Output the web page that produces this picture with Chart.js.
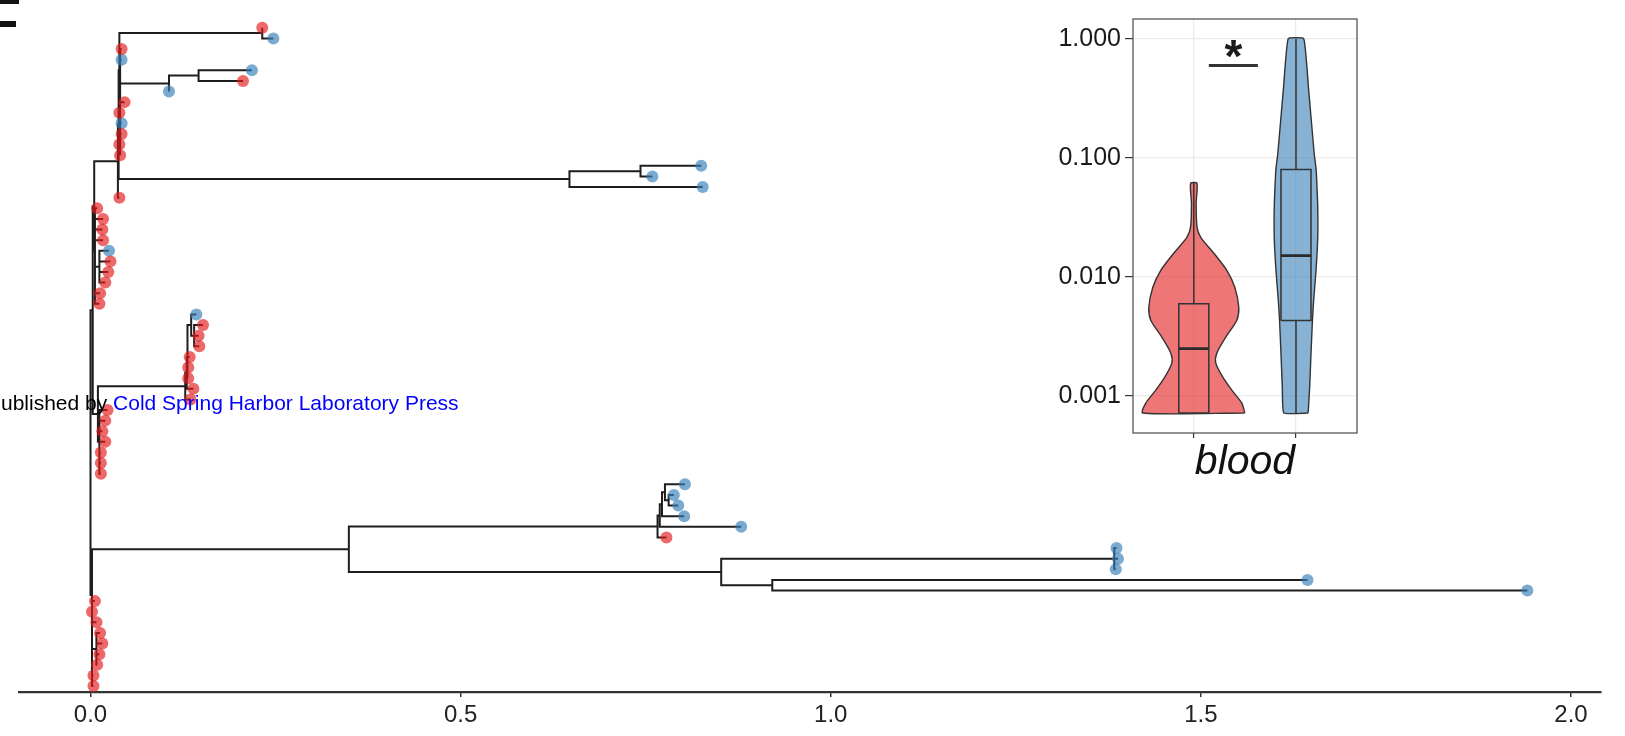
<!DOCTYPE html>
<html>
<head>
<meta charset="utf-8">
<script src="https://cdn.jsdelivr.net/npm/chart.js@4.4.1/dist/chart.umd.min.js"></script>
<style>
  html, body { margin: 0; padding: 0; background: #fff; overflow: hidden; }
  #wrap { position: relative; width: 1625px; height: 736px; }
  #tree { position: absolute; left: 0; top: 0; }
  #inset { position: absolute; left: 1000px; top: 0; }
  .credit { position: absolute; left: 1px; top: 392px; font: 21px/1 'Liberation Sans', Arial, sans-serif; color: #000; white-space: nowrap; }
  .credit span { color: #0000ff; }
  .mark { position: absolute; background: #141414; }
</style>
</head>
<body>
<div id="wrap">
  <canvas id="tree" width="1625" height="736"></canvas>
  <canvas id="inset" width="400" height="500"></canvas>
  <div class="mark" style="left:0;top:0;width:19px;height:4px"></div>
  <div class="mark" style="left:0;top:21px;width:16px;height:6px"></div>
  <div class="credit">ublished by <span>Cold Spring Harbor Laboratory Press</span></div>
</div>
<script>
// ---- tree data (tips listed top to bottom) ----
const tipDist = [
  0.232, 0.247, 0.042, 0.042, 0.218, 0.206, 0.106, 0.046, 0.039, 0.042,
  0.042, 0.039, 0.040, 0.825, 0.759, 0.827, 0.039, 0.009, 0.017, 0.016,
  0.017, 0.025, 0.027, 0.024, 0.020, 0.013, 0.012, 0.143, 0.152, 0.146,
  0.147, 0.134, 0.132, 0.132, 0.139, 0.135, 0.023, 0.020, 0.016, 0.020,
  0.014, 0.014, 0.014, 0.803, 0.788, 0.794, 0.802, 0.879, 0.778, 1.386,
  1.388, 1.385, 1.644, 1.941, 0.006, 0.002, 0.008, 0.013, 0.016, 0.012,
  0.009, 0.004, 0.004
];
// 0 = red group, 1 = blue group
const tipGroup = [
  0, 1, 0, 1, 1, 0, 1, 0, 0, 1,
  0, 0, 0, 1, 1, 1, 0, 0, 0, 0,
  0, 1, 0, 0, 0, 0, 0, 1, 0, 0,
  0, 0, 0, 0, 0, 0, 0, 0, 0, 0,
  0, 0, 0, 1, 1, 1, 1, 1, 0, 1,
  1, 1, 1, 1, 0, 0, 0, 0, 0, 0,
  0, 0, 0
];
const tipParent = [
  'cl12', 'cl12', 'N2c', 'N2c', 'cl56', 'cl56', 'cl567', 'N2c', 'N2c', 'N2c',
  'N2c', 'N2c', 'N2c', 'cl1415', 'cl1415', 'cl1416', 'N2', 'N3', 'N3', 'N3',
  'N3', 'N3a', 'N3a', 'N3a', 'N3a', 'N3', 'N3', 'CQc', 'CQd', 'CQd',
  'CQd', 'CQb', 'CQb', 'CQb', 'CQa', 'CQ', 'P3a', 'P3a', 'P3a', 'P3a',
  'P3a', 'P3a', 'P3a', 'LA3', 'LA4', 'LA4', 'LA2', 'LA1', 'LA', 'LB1',
  'LB1', 'LB1', 'LB2', 'LB2', 'BC', 'BC', 'BC', 'BCa', 'BCa', 'BCa',
  'BCa', 'BC', 'BC'
];
const nodeIds = ['root', 'U', 'N1', 'N2', 'N2a', 'N2b', 'N2c', 'cl12', 'cl567', 'cl56',
  'cl1416', 'cl1415', 'N3', 'N3a', 'P3', 'CQ', 'CQa', 'CQb', 'CQc', 'CQd',
  'P3a', 'Bt', 'L', 'LA', 'LA1', 'LA2', 'LA3', 'LA4', 'LB', 'LB1', 'LB2', 'BC', 'BCa'];
const nodeDist = [0.000, 0.003, 0.005, 0.037, 0.038, 0.039, 0.040, 0.232, 0.106, 0.146,
  0.647, 0.743, 0.006, 0.012, 0.010, 0.128, 0.130, 0.131, 0.136, 0.140,
  0.012, 0.002, 0.349, 0.766, 0.769, 0.772, 0.776, 0.781, 0.852, 1.383, 0.921, 0.002, 0.008];
const nodeParent = [null, 'root', 'U', 'N1', 'N2', 'N2a', 'N2b', 'N2b', 'N2c', 'cl567',
  'N2a', 'cl1416', 'N1', 'N3', 'U', 'P3', 'CQ', 'CQa', 'CQb', 'CQc',
  'P3', 'root', 'Bt', 'L', 'LA', 'LA1', 'LA2', 'LA3', 'L', 'LB', 'LB', 'Bt', 'BC'];

const xTicks = [0, 0.5, 1.0, 1.5, 2.0];

// ---- inset data ----
const insetCats = [1, 2];
const yTicksInset = [0.001, 0.01, 0.1, 1];
const redViolinY = [0.00072, 0.00087, 0.00112, 0.00144, 0.00189, 0.00229, 0.00312, 0.00433,
  0.00556, 0.00818, 0.01136, 0.0158, 0.0215, 0.026, 0.0414, 0.061];
const redViolinW = [0.499, 0.470, 0.372, 0.284, 0.215, 0.225, 0.313, 0.421,
  0.440, 0.401, 0.323, 0.196, 0.068, 0.032, 0.023, 0.031];
const blueViolinY = [0.00072, 0.00119, 0.00229, 0.00433, 0.00601, 0.01136, 0.0215, 0.0414,
  0.0783, 0.1087, 0.388, 1.0];
const blueViolinW = [0.119, 0.134, 0.147, 0.161, 0.171, 0.196, 0.213, 0.212,
  0.198, 0.178, 0.122, 0.076];
const boxMin = [0.00072, 0.00072];
const boxQ1 = [0.00072, 0.00431];
const boxMedian = [0.0025, 0.0151];
const boxQ3 = [0.00596, 0.0796];
const boxMax = [0.061, 1.0];
const sigBarX = [1.147, 1.627];
const sigBarY = 0.594;
const sigLabel = '*';

// ---- styles ----
const FONT = "'Liberation Sans', Arial, Helvetica, sans-serif";
const groupFill = ['rgba(228,26,28,0.66)', 'rgba(55,126,184,0.66)'];
const violinFill = ['rgba(228,26,28,0.6)', 'rgba(55,126,184,0.6)'];
const BOX_HALF = 0.147;

// layout of the tree: tip i sits at y = i + 1, nodes at the mean of their children
const nodeX = {};
const kids = {};
nodeIds.forEach((id, i) => { nodeX[id] = nodeDist[i]; kids[id] = []; });
tipParent.forEach((p, i) => kids[p].push({ tip: i }));
nodeParent.forEach((p, i) => { if (p) kids[p].push({ node: nodeIds[i] }); });
const nodeY = {};
function yOf(id) {
  if (nodeY[id] !== undefined) return nodeY[id];
  const ys = kids[id].map(c => c.tip !== undefined ? c.tip + 1 : yOf(c.node));
  nodeY[id] = ys.reduce((a, b) => a + b, 0) / ys.length;
  return nodeY[id];
}

const treePath = [];
function edge(px, py, cx, cy) {
  treePath.push({ x: px, y: py }, { x: px, y: cy }, { x: cx, y: cy }, { x: null, y: null });
}
tipDist.forEach((d, i) => {
  const p = tipParent[i];
  edge(nodeX[p], yOf(p), d, i + 1);
});
nodeIds.forEach((id, i) => {
  const p = nodeParent[i];
  if (p) edge(nodeX[p], yOf(p), nodeX[id], yOf(id));
});

const tipPoints = [[], []];
tipDist.forEach((d, i) => tipPoints[tipGroup[i]].push({ x: d, y: i + 1 }));

new Chart(document.getElementById('tree'), {
  type: 'scatter',
  data: {
    datasets: [
      { data: tipPoints[0], backgroundColor: groupFill[0], borderWidth: 0, pointRadius: 6, order: 0, clip: false },
      { data: tipPoints[1], backgroundColor: groupFill[1], borderWidth: 0, pointRadius: 6, order: 0, clip: false },
      { data: treePath, showLine: true, spanGaps: false, borderColor: '#1e1e1e', borderWidth: 2,
        pointRadius: 0, order: 1, clip: false }
    ]
  },
  options: {
    animation: false,
    responsive: false,
    layout: { padding: { left: 19, right: 24, top: 0, bottom: 0 } },
    plugins: { legend: { display: false }, tooltip: { enabled: false } },
    scales: {
      x: {
        type: 'linear', min: -0.0966, max: 2.0405,
        afterBuildTicks: s => { s.ticks = xTicks.map(v => ({ value: v })); },
        afterFit: s => { s.height = 44; },
        ticks: { callback: v => v.toFixed(1), font: { family: FONT, size: 24 }, color: '#222', padding: 4, maxRotation: 0, autoSkip: false },
        grid: { drawOnChartArea: false, drawTicks: true, tickLength: 5, color: '#333', lineWidth: 1.5 },
        border: { display: true, color: '#333', width: 2.2 }
      },
      y: { type: 'linear', reverse: true, min: -1.054, max: 63.56, display: false }
    }
  }
});

// ---- inset: violins + boxplots ----
function violinShape(c, ys, ws) {
  const pts = [];
  for (let i = 0; i < ys.length; i++) pts.push({ x: c + ws[i], y: ys[i] });
  for (let i = ys.length - 1; i >= 0; i--) pts.push({ x: c - ws[i], y: ys[i] });
  pts.push({ x: c + ws[0], y: ys[0] });
  return pts;
}
const boxPath = [];
const medianPath = [];
insetCats.forEach((c, i) => {
  boxPath.push({ x: c - BOX_HALF, y: boxQ1[i] }, { x: c + BOX_HALF, y: boxQ1[i] },
    { x: c + BOX_HALF, y: boxQ3[i] }, { x: c - BOX_HALF, y: boxQ3[i] },
    { x: c - BOX_HALF, y: boxQ1[i] }, { x: null, y: null },
    { x: c, y: boxQ3[i] }, { x: c, y: boxMax[i] }, { x: null, y: null },
    { x: c, y: boxMin[i] }, { x: c, y: boxQ1[i] }, { x: null, y: null });
  medianPath.push({ x: c - BOX_HALF, y: boxMedian[i] }, { x: c + BOX_HALF, y: boxMedian[i] }, { x: null, y: null });
});

const panelFrame = {
  id: 'panelFrame',
  afterDatasetsDraw(chart) {
    const a = chart.chartArea, ctx = chart.ctx;
    ctx.save();
    ctx.strokeStyle = '#555';
    ctx.lineWidth = 1.3;
    ctx.strokeRect(a.left, a.top, a.right - a.left, a.bottom - a.top);
    ctx.restore();
  }
};
const sigText = {
  id: 'sigText',
  afterDatasetsDraw(chart) {
    const ctx = chart.ctx;
    const x = chart.scales.x.getPixelForValue((sigBarX[0] + sigBarX[1]) / 2);
    const y = chart.scales.y.getPixelForValue(sigBarY);
    ctx.save();
    ctx.fillStyle = '#1a1a1a';
    ctx.font = 'bold 46px ' + FONT;
    ctx.textAlign = 'center';
    ctx.textBaseline = 'alphabetic';
    ctx.fillText(sigLabel, x, y + 6);
    ctx.restore();
  }
};

new Chart(document.getElementById('inset'), {
  type: 'scatter',
  data: {
    datasets: [
      { data: violinShape(insetCats[0], redViolinY, redViolinW), showLine: true, fill: 'shape',
        backgroundColor: violinFill[0], borderColor: '#333', borderWidth: 1.4, pointRadius: 0, tension: 0.25, order: 3 },
      { data: violinShape(insetCats[1], blueViolinY, blueViolinW), showLine: true, fill: 'shape',
        backgroundColor: violinFill[1], borderColor: '#333', borderWidth: 1.4, pointRadius: 0, tension: 0.12, order: 3 },
      { data: boxPath, showLine: true, spanGaps: false, borderColor: '#333', borderWidth: 1.5, pointRadius: 0, order: 2 },
      { data: medianPath, showLine: true, spanGaps: false, borderColor: '#2a2a2a', borderWidth: 2.8, pointRadius: 0, order: 1 },
      { data: [{ x: sigBarX[0], y: sigBarY }, { x: sigBarX[1], y: sigBarY }], showLine: true,
        borderColor: '#333', borderWidth: 3, pointRadius: 0, order: 0, clip: false }
    ]
  },
  options: {
    animation: false,
    responsive: false,
    layout: { padding: { left: 0, right: 43, top: 18, bottom: 0 } },
    plugins: { legend: { display: false }, tooltip: { enabled: false } },
    scales: {
      x: {
        type: 'linear', min: 0.405, max: 2.597,
        afterBuildTicks: s => { s.ticks = insetCats.map(v => ({ value: v })); },
        afterFit: s => { s.height = 67; },
        ticks: { display: false },
        grid: { color: '#EBEBEB', lineWidth: 1.2, tickColor: '#333', tickLength: 5, drawTicks: true },
        border: { display: false },
        title: { display: true, text: 'blood', color: '#111',
          font: { family: FONT, size: 41, style: 'italic', lineHeight: 1 }, padding: { top: 0, bottom: 17 } }
      },
      y: {
        type: 'logarithmic', min: 0.000489, max: 1.463,
        afterBuildTicks: s => { s.ticks = yTicksInset.map(v => ({ value: v })); },
        afterFit: s => { s.width = 133; },
        ticks: { callback: v => Number(v).toFixed(3), font: { family: FONT, size: 25 }, color: '#1a1a1a', padding: 4 },
        grid: { color: '#EBEBEB', lineWidth: 1.2, tickColor: '#333', tickLength: 8 },
        border: { display: false }
      }
    }
  },
  plugins: [panelFrame, sigText]
});
</script>
</body>
</html>
